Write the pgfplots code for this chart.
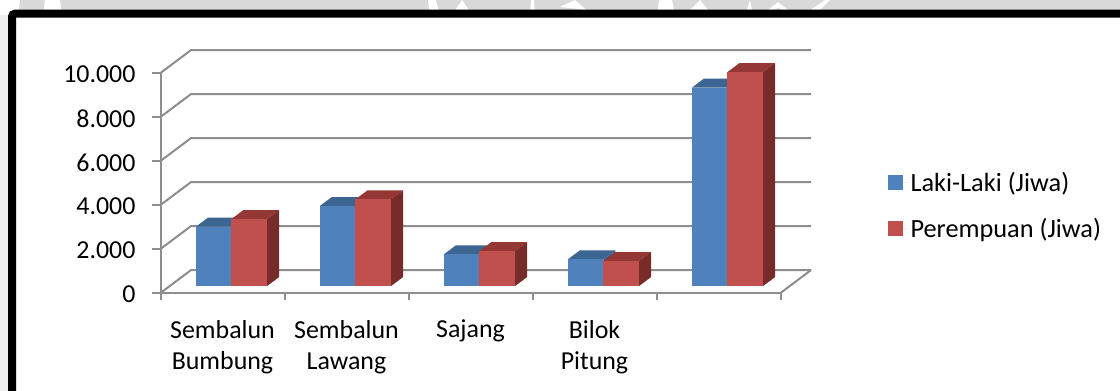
\documentclass[border=0pt]{standalone}
\usepackage{pgfplots}
\usepackage{pgfplotstable}
\usepackage{fontspec}
\setmainfont{Carlito}
\pgfplotsset{compat=1.18}

\definecolor{axisgray}{HTML}{8E8E8E}
\definecolor{bandgray}{HTML}{D9D9D9}
\definecolor{blueface}{HTML}{4F81BD}
\definecolor{bluetop}{HTML}{3D6592}
\definecolor{blueside}{HTML}{385D8A}
\definecolor{redface}{HTML}{C0504D}
\definecolor{redtop}{HTML}{953735}
\definecolor{redside}{HTML}{772C2A}

% Population by village
\pgfplotstableread{
group laki perempuan
0 2695 3045
1 3636 3940
2 1440 1590
3 1212 1136
4 9014 9727
}\popdata

% Depth of the floor and of a bar, in axis units
\newcommand{\floordx}{0.2468}
\newcommand{\floordy}{1045}
\newcommand{\barbasedy}{318}
\newcommand{\bardx}{0.0968}
\newcommand{\bardy}{409}
\newcommand{\barw}{0.2875}

% One wall gridline: front edge, slant, back edge
\newcommand{\gridline}[1]{%
  \pgfmathsetmacro{\gy}{#1+\floordy}%
  \addplot[forget plot,draw=axisgray,line width=2bp,line join=round]
    coordinates {(0,#1) (\floordx,\gy) (5+\floordx,\gy)};%
}

% One bar: front, top and side faces
% #1 table row, #2 column, #3 left edge within the group, #4/#5/#6 colours
\newcommand{\threedbar}[6]{%
  \pgfplotstablegetelem{#1}{#2}\of\popdata
  \pgfmathsetmacro{\xl}{#1+#3}%
  \pgfmathsetmacro{\xr}{\xl+\barw}%
  \pgfmathsetmacro{\xlb}{\xl+\bardx}%
  \pgfmathsetmacro{\xrb}{\xr+\bardx}%
  \pgfmathsetmacro{\yb}{\barbasedy}%
  \pgfmathsetmacro{\yt}{\yb+\pgfplotsretval}%
  \pgfmathsetmacro{\ybb}{\yb+\bardy}%
  \pgfmathsetmacro{\ytb}{\yt+\bardy}%
  \addplot[forget plot,fill=#5,draw=none]
    coordinates {(\xl,\yt) (\xlb,\ytb) (\xrb,\ytb) (\xr,\yt)} -- cycle;%
  \addplot[forget plot,fill=#6,draw=none]
    coordinates {(\xr,\yb) (\xrb,\ybb) (\xrb,\ytb) (\xr,\yt)} -- cycle;%
  \addplot[forget plot,fill=#4,draw=none]
    coordinates {(\xl,\yb) (\xr,\yb) (\xr,\yt) (\xl,\yt)} -- cycle;%
}

\begin{document}
\begin{tikzpicture}
\path[use as bounding box] (0bp,0bp) rectangle (1120bp,391bp);

% Page behind the chart frame
\begin{scope}
  \clip (0bp,0bp) rectangle (1120bp,391bp);
  \fill[white] (0bp,0bp) rectangle (1120bp,391bp);
  \fill[bandgray] (0bp,376bp) rectangle (1120bp,391bp);
  \fill[black!6] (0bp,0bp) rectangle (9bp,380bp);
  \fill[white] (0bp,376bp) -- (18bp,376bp) -- (20bp,391bp) -- (0bp,391bp) -- cycle;
  \fill[white] (43bp,376bp) -- (62bp,376bp) -- (60bp,391bp) -- (45bp,391bp) -- cycle;
  \fill[white] (430bp,376bp) -- (440bp,376bp) -- (436bp,391bp) -- (428bp,391bp) -- cycle;
  \fill[white] (452bp,376bp) -- (462bp,391bp) -- (472bp,376bp) -- cycle;
  \fill[white] (530bp,376bp) -- (535bp,376bp) -- (534bp,391bp) -- (531bp,391bp) -- cycle;
  \fill[white] (560bp,384bp) -- (575bp,391bp) -- (592bp,376bp) -- (578bp,382bp) -- cycle;
  \fill[white] (657bp,376bp) -- (675bp,376bp) -- (672bp,391bp) -- (659bp,391bp) -- cycle;
  \fill[white] (685bp,376bp) -- (700bp,391bp) -- (712bp,376bp) -- cycle;
  \fill[white] (745bp,376bp) -- (750bp,391bp) -- (753bp,376bp) -- cycle;
  \fill[white] (762bp,376bp) -- (778bp,389bp) -- (794bp,376bp) -- (778bp,383bp) -- cycle;
  \fill[white] (803bp,376bp) -- (825bp,391bp) -- (830bp,391bp) -- (815bp,376bp) -- cycle;
  \fill[white,rounded corners=3bp] (12bp,-10bp) rectangle (1140bp,377bp);
  \draw[black,line width=8bp,rounded corners=3bp] (12bp,-10bp) -- (12bp,377.3bp) -- (1140bp,377.3bp);
\end{scope}

\begin{axis}[
  at={(160.5bp,98bp)},
  anchor=south west,
  scale only axis,
  width=620bp,
  height=220bp,
  xmin=0, xmax=5,
  ymin=0, ymax=10000,
  clip=false,
  axis x line=bottom,
  axis y line=left,
  axis line style={draw=axisgray,line width=2bp,-},
  tick align=outside,
  tick style={draw=axisgray,line width=2bp},
  major tick length=8bp,
  minor tick length=7bp,
  major x tick style={draw=none},
  xtick={0.5,1.5,2.5,3.5,4.5},
  minor xtick={0,1,2,3,4,5},
  xticklabels={{Sembalun\\Bumbung},{Sembalun\\Lawang},{Sajang},{Bilok\\Pitung},{}},
  xticklabel style={align=center,font=\fontsize{26}{32}\selectfont,yshift=-15.5bp},
  ytick={0,2000,4000,6000,8000,10000},
  scaled y ticks=false,
  yticklabel style={font=\fontsize{26}{30}\selectfont,xshift=-13.5bp,yshift=-1.5bp,
    /pgf/number format/.cd,assume math mode=true,1000 sep={.},fixed,precision=0},
  legend cell align=left,
  legend style={
    at={(1.1734,0.56)},anchor=north west,
    draw=none,fill=none,inner sep=0pt,outer sep=0pt,
    font=\fontsize{26.4}{30}\selectfont,
    row sep=21.5bp,
    legend cell align=left},
  legend image code/.code={%
    \fill[#1] (0bp,-7.5bp) rectangle (15bp,7.5bp);
    \path (0bp,0bp) -- (20.5bp,0bp);},
]
\gridline{0}\gridline{2000}\gridline{4000}\gridline{6000}\gridline{8000}\gridline{10000}
\addplot[forget plot,draw=axisgray,line width=2bp] coordinates {(5,0) (5+\floordx,\floordy)};

\threedbar{0}{laki}{0.285}{blueface}{bluetop}{blueside}
\threedbar{0}{perempuan}{0.5725}{redface}{redtop}{redside}
\threedbar{1}{laki}{0.285}{blueface}{bluetop}{blueside}
\threedbar{1}{perempuan}{0.5725}{redface}{redtop}{redside}
\threedbar{2}{laki}{0.285}{blueface}{bluetop}{blueside}
\threedbar{2}{perempuan}{0.5725}{redface}{redtop}{redside}
\threedbar{3}{laki}{0.285}{blueface}{bluetop}{blueside}
\threedbar{3}{perempuan}{0.5725}{redface}{redtop}{redside}
\threedbar{4}{laki}{0.285}{blueface}{bluetop}{blueside}
\threedbar{4}{perempuan}{0.5725}{redface}{redtop}{redside}

\addlegendimage{fill=blueface,draw=none}
\addlegendentry{Laki-Laki (Jiwa)}
\addlegendimage{fill=redface,draw=none}
\addlegendentry{Perempuan (Jiwa)}
\end{axis}
\end{tikzpicture}
\end{document}
